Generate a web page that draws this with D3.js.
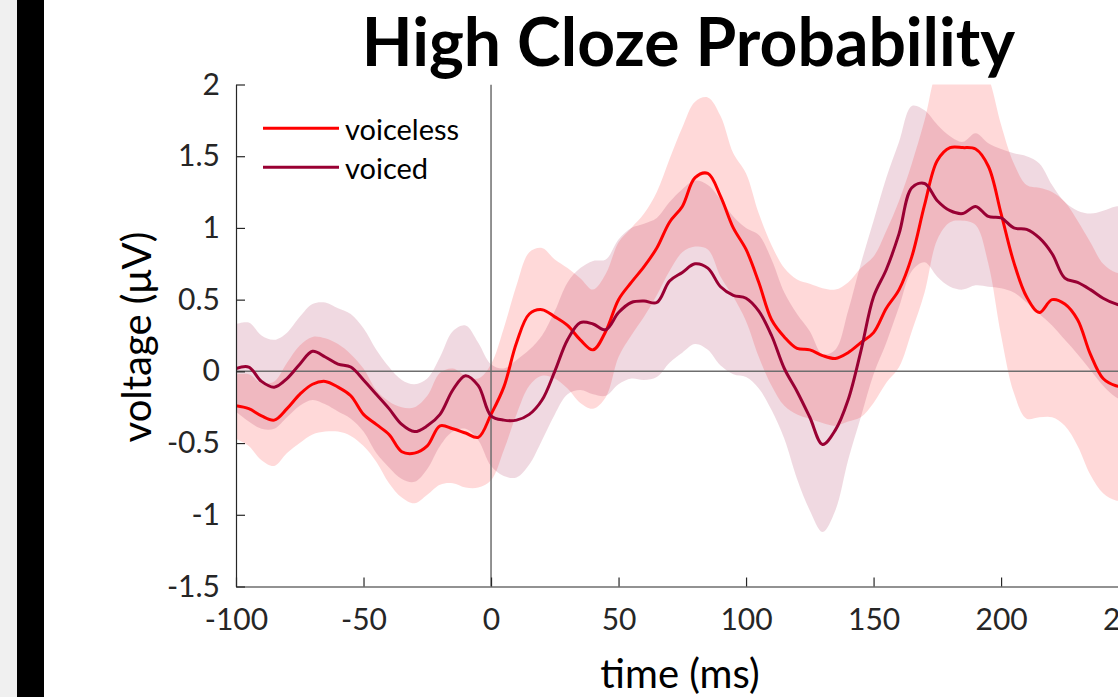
<!DOCTYPE html>
<html>
<head>
<meta charset="utf-8">
<script src="https://cdn.jsdelivr.net/npm/d3@7"></script>
<style>
  body { margin: 0; background: #fff; overflow: hidden; }
  svg text { font-family: Lato, "Open Sans", sans-serif; fill: #262626; }
</style>
</head>
<body>
<div id="chart"></div>
<script>
// sample times (ms)
var times = [-100, -95, -90, -85, -80, -75, -70, -65, -60, -55, -50, -45, -40, -35, -30, -25, -20, -15, -10, -5,
  0, 5, 10, 15, 20, 25, 30, 35, 40, 45, 50, 55, 60, 65, 70, 75, 80, 85, 90, 95,
  100, 105, 110, 115, 120, 125, 130, 135, 140, 145, 150, 155, 160, 165, 170, 175, 180, 185, 190, 195,
  200, 205, 210, 215, 220, 225, 230, 235, 240, 245, 250];

// voiceless: mean and shaded band
var voicelessMean = [-0.24, -0.26, -0.31, -0.34, -0.26, -0.16, -0.09, -0.07, -0.11, -0.17, -0.30, -0.37, -0.44, -0.56, -0.57, -0.52, -0.38, -0.40, -0.43, -0.46,
  -0.30, -0.11, 0.20, 0.40, 0.43, 0.38, 0.32, 0.22, 0.15, 0.28, 0.50, 0.62, 0.73, 0.86, 1.04, 1.15, 1.35, 1.38, 1.22, 1.00,
  0.85, 0.62, 0.36, 0.24, 0.16, 0.15, 0.11, 0.09, 0.13, 0.20, 0.27, 0.44, 0.57, 0.80, 1.16, 1.47, 1.56, 1.56, 1.55, 1.43,
  1.10, 0.76, 0.52, 0.41, 0.50, 0.47, 0.36, 0.12, -0.05, -0.10, -0.11];
var voicelessHi = [-0.02, -0.02, -0.08, -0.07, 0.06, 0.18, 0.24, 0.23, 0.19, 0.12, 0.02, -0.13, -0.21, -0.25, -0.25, -0.17, -0.01, 0.02, -0.03, -0.05,
  0.05, 0.30, 0.60, 0.83, 0.86, 0.78, 0.72, 0.65, 0.57, 0.68, 0.90, 1.00, 1.10, 1.25, 1.48, 1.70, 1.88, 1.91, 1.78, 1.52,
  1.38, 1.10, 0.88, 0.72, 0.64, 0.61, 0.58, 0.57, 0.62, 0.72, 0.80, 0.98, 1.19, 1.45, 1.75, 2.10, 2.20, 2.20, 2.20, 2.05,
  1.72, 1.45, 1.30, 1.28, 1.25, 1.18, 1.05, 0.90, 0.75, 0.69, 0.68];
var voicelessLo = [-0.47, -0.52, -0.62, -0.66, -0.57, -0.50, -0.44, -0.42, -0.42, -0.45, -0.52, -0.63, -0.78, -0.88, -0.92, -0.86, -0.79, -0.78, -0.81, -0.81,
  -0.76, -0.55, -0.30, -0.10, -0.03, -0.05, -0.12, -0.22, -0.26, -0.18, 0.10, 0.25, 0.38, 0.53, 0.70, 0.83, 0.87, 0.85, 0.66, 0.52,
  0.35, 0.10, -0.10, -0.24, -0.30, -0.33, -0.36, -0.38, -0.35, -0.32, -0.22, -0.08, 0.03, 0.28, 0.55, 0.92, 1.04, 1.05, 1.02, 0.75,
  0.25, -0.15, -0.33, -0.32, -0.32, -0.38, -0.52, -0.72, -0.85, -0.90, -0.90];

// voiced: mean and shaded band
var voicedMean = [0.02, 0.03, -0.07, -0.11, -0.05, 0.05, 0.14, 0.10, 0.05, 0.03, -0.06, -0.16, -0.26, -0.37, -0.42, -0.38, -0.30, -0.13, -0.03, -0.10,
  -0.31, -0.34, -0.34, -0.30, -0.20, 0.00, 0.22, 0.34, 0.33, 0.29, 0.41, 0.48, 0.49, 0.48, 0.63, 0.69, 0.75, 0.72, 0.59, 0.53,
  0.51, 0.42, 0.25, 0.02, -0.14, -0.32, -0.51, -0.41, -0.20, 0.14, 0.52, 0.71, 0.96, 1.28, 1.31, 1.19, 1.12, 1.10, 1.15, 1.08,
  1.07, 1.00, 0.99, 0.93, 0.82, 0.65, 0.62, 0.57, 0.51, 0.47, 0.45];
var voicedHi = [0.33, 0.34, 0.25, 0.22, 0.27, 0.38, 0.47, 0.48, 0.44, 0.40, 0.30, 0.15, 0.03, -0.06, -0.09, -0.05, 0.10, 0.28, 0.32, 0.20,
  0.05, 0.02, 0.08, 0.15, 0.25, 0.42, 0.62, 0.72, 0.77, 0.78, 0.92, 1.00, 1.03, 1.07, 1.18, 1.27, 1.33, 1.30, 1.20, 1.08,
  1.00, 0.95, 0.78, 0.55, 0.40, 0.28, 0.12, 0.15, 0.42, 0.75, 1.05, 1.35, 1.60, 1.85, 1.82, 1.72, 1.64, 1.60, 1.66, 1.59,
  1.55, 1.52, 1.50, 1.45, 1.30, 1.18, 1.12, 1.10, 1.12, 1.15, 1.15];
var voicedLo = [-0.28, -0.35, -0.40, -0.40, -0.32, -0.24, -0.20, -0.23, -0.28, -0.33, -0.42, -0.57, -0.67, -0.75, -0.77, -0.68, -0.52, -0.42, -0.40, -0.48,
  -0.66, -0.73, -0.74, -0.65, -0.48, -0.30, -0.16, -0.13, -0.16, -0.17, -0.09, -0.05, -0.06, -0.04, 0.06, 0.13, 0.19, 0.15, 0.04, -0.02,
  -0.04, -0.12, -0.27, -0.47, -0.75, -0.97, -1.12, -0.97, -0.62, -0.32, -0.02, 0.20, 0.45, 0.70, 0.76, 0.66, 0.59, 0.57, 0.60, 0.59,
  0.58, 0.55, 0.48, 0.40, 0.32, 0.22, 0.12, 0.01, -0.10, -0.18, -0.22];

var xTicks = [-100, -50, 0, 50, 100, 150, 200, 250];
var yTicks = [-1.5, -1, -0.5, 0, 0.5, 1, 1.5, 2];
var seriesNames = ["voiceless", "voiced"];

var width = 1118, height = 697;

var svg = d3.select("#chart")
    .append("svg")
    .attr("width", width)
    .attr("height", height);

// strip on the left edge
svg.append("rect").attr("x", 0).attr("y", 0).attr("width", 17).attr("height", height).style("fill", "#f0f0f0");
svg.append("rect").attr("x", 17).attr("y", 0).attr("width", 27).attr("height", height).style("fill", "#000");

var x = d3.scaleLinear().domain([-100, 250]).range([236, 1128.6]);
var y = d3.scaleLinear().domain([-1.5, 2]).range([586.5, 84.5]);

svg.append("clipPath").attr("id", "plotclip")
    .append("rect")
    .attr("x", x(-100)).attr("y", y(2))
    .attr("width", x(250) - x(-100)).attr("height", y(-1.5) - y(2));

var series = [
  { name: seriesNames[0], mean: voicelessMean, lo: voicelessLo, hi: voicelessHi, color: "#ff0000" },
  { name: seriesNames[1], mean: voicedMean, lo: voicedLo, hi: voicedHi, color: "#990033" }
];

var plot = svg.append("g").attr("clip-path", "url(#plotclip)");

var area = function (s) {
  return d3.area()
      .x(function (d, i) { return x(times[i]); })
      .y0(function (d, i) { return y(s.lo[i]); })
      .y1(function (d, i) { return y(s.hi[i]); })
      .curve(d3.curveCatmullRom.alpha(0.5));
};
var line = d3.line()
    .x(function (d, i) { return x(times[i]); })
    .y(function (d) { return y(d); })
    .curve(d3.curveCatmullRom.alpha(0.5));

// shaded bands
series.forEach(function (s) {
  plot.append("path")
      .datum(times)
      .attr("d", area(s))
      .style("fill", s.color)
      .style("fill-opacity", 0.15)
      .style("stroke", "none");
});

// zero lines
plot.append("line")
    .attr("x1", x(-100)).attr("x2", x(250))
    .attr("y1", y(0)).attr("y2", y(0))
    .style("stroke", "#6e6e6e").style("stroke-width", 1.5);
plot.append("line")
    .attr("x1", x(0)).attr("x2", x(0))
    .attr("y1", y(2)).attr("y2", y(-1.5))
    .style("stroke", "#6e6e6e").style("stroke-width", 1.5);

// mean lines
series.forEach(function (s) {
  plot.append("path")
      .datum(s.mean)
      .attr("d", line)
      .style("fill", "none")
      .style("stroke", s.color)
      .style("stroke-width", 3)
      .style("stroke-linejoin", "round");
});

// axes
var xAxis = svg.append("g")
    .attr("transform", "translate(0," + y(-1.5) + ")")
    .call(d3.axisBottom(x).tickValues(xTicks).tickFormat(function (d) { return String(d); })
      .tickSizeInner(-9).tickSizeOuter(0).tickPadding(22));
var yAxis = svg.append("g")
    .attr("transform", "translate(" + x(-100) + ",0)")
    .call(d3.axisLeft(y).tickValues(yTicks).tickFormat(function (d) { return String(d); })
      .tickSizeInner(-9).tickSizeOuter(0).tickPadding(16));

[xAxis, yAxis].forEach(function (g) {
  g.select(".domain").style("stroke", "#262626").style("stroke-width", 1.2);
  g.selectAll(".tick line").style("stroke", "#262626").style("stroke-width", 1.2);
  g.selectAll(".tick text").style("font-size", "30px").style("fill", "#262626")
      .attr("font-family", null);
});

// title
svg.append("text")
    .attr("x", 688.5)
    .attr("y", 66)
    .attr("text-anchor", "middle")
    .style("font-size", "66px")
    .style("font-weight", "bold")
    .style("fill", "#000")
    .text("High Cloze Probability");

// axis labels
svg.append("text")
    .attr("x", 680)
    .attr("y", 688)
    .attr("text-anchor", "middle")
    .style("font-size", "40px")
    .style("fill", "#000")
    .text("time (ms)");

svg.append("text")
    .attr("transform", "translate(151,337) rotate(-90)")
    .attr("text-anchor", "middle")
    .style("font-size", "40px")
    .style("fill", "#000")
    .text("voltage (\u03BCV)");

// legend
var legend = svg.append("g");
series.forEach(function (s, i) {
  var ly = 128.3 + i * 39;
  legend.append("line")
      .attr("x1", 263).attr("x2", 339)
      .attr("y1", ly).attr("y2", ly)
      .style("stroke", s.color).style("stroke-width", 3);
  legend.append("text")
      .attr("x", 345)
      .attr("y", ly + 11.5)
      .style("font-size", "29px")
      .style("fill", "#000")
      .text(s.name);
});
</script>
</body>
</html>
